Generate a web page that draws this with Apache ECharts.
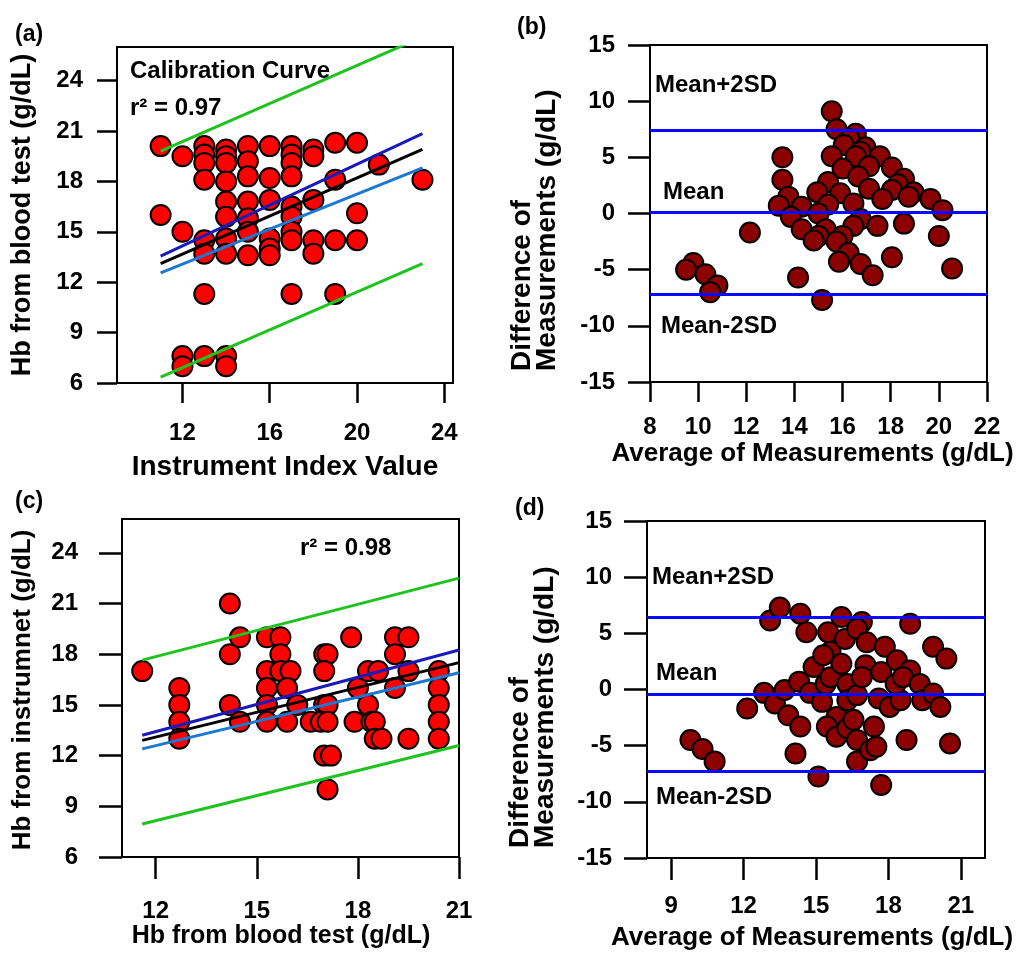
<!DOCTYPE html>
<html>
<head>
<meta charset="utf-8">
<script src="https://cdn.jsdelivr.net/npm/echarts@6/dist/echarts.min.js"></script>
<style>
  html, body { margin: 0; padding: 0; background: #ffffff; }
  #chart { width: 1017px; height: 954px; }
</style>
</head>
<body>
<div id="chart"></div>
<script>
// ---------------- DATA ----------------
// (a) Calibration: [Instrument Index Value, Hb from blood test]
const panelAPoints = [
  [11,20.1],[11,16.0],
  [12,19.5],[12,15.0],[12,7.6],[12,7.0],
  [13,20.1],[13,19.6],[13,19.1],[13,18.1],[13,14.5],[13,13.7],[13,11.3],[13,7.6],
  [14,19.9],[14,19.5],[14,19.1],[14,18.0],[14,16.8],[14,15.9],[14,14.6],[14,13.7],[14,7.6],[14,7.0],
  [15,20.1],[15,19.2],[15,18.3],[15,16.8],[15,15.8],[15,15.0],[15,13.6],
  [16,20.1],[16,18.2],[16,16.9],[16,14.6],[16,14.0],[16,13.6],
  [17,20.1],[17,19.6],[17,19.1],[17,18.3],[17,16.5],[17,15.9],[17,15.0],[17,14.5],[17,11.3],
  [18,19.9],[18,19.5],[18,16.9],[18,14.5],[18,13.7],
  [19,20.3],[19,18.1],[19,14.5],[19,11.3],
  [20,20.3],[20,16.1],[20,14.5],
  [21,19.0],
  [23,18.1]
];
const aLineX = [11, 23];
const aGreenUpper = [19.8, 26.6];
const aGreenLower = [6.35, 13.1];
const aDarkBlue = [13.55, 20.85];
const aBlack = [13.1, 19.9];
const aLightBlue = [12.55, 18.8];
const aXTicks = [12, 16, 20, 24];
const aYTicks = [6, 9, 12, 15, 18, 21, 24];

// (b) Bland-Altman: [Average, Difference]
const panelBPoints = [
  [15.55,9.1],[13.5,5.0],
  [15.75,7.5],[13.5,3.0],[9.8,-4.4],[9.5,-5.0],
  [16.55,7.1],[16.3,6.6],[16.05,6.1],[15.55,5.1],[13.75,1.5],[13.35,0.7],[12.15,-1.7],[10.3,-5.4],
  [16.95,5.9],[16.75,5.5],[16.55,5.1],[16.0,4.0],[15.4,2.8],[14.95,1.9],[14.3,0.6],[13.85,-0.3],[10.8,-6.4],[10.5,-7.0],
  [17.55,5.1],[17.1,4.2],[16.65,3.3],[15.9,1.8],[15.4,0.8],[15.0,0.0],[14.3,-1.4],
  [18.05,4.1],[17.1,2.2],[16.45,0.9],[15.3,-1.4],[15.0,-2.0],[14.8,-2.4],
  [18.55,3.1],[18.3,2.6],[18.05,2.1],[17.65,1.3],[16.75,-0.5],[16.45,-1.1],[16.0,-2.0],[15.75,-2.5],[14.15,-5.7],
  [18.95,1.9],[18.75,1.5],[17.45,-1.1],[16.25,-3.5],[15.85,-4.3],
  [19.65,1.3],[18.55,-0.9],[16.75,-4.5],[15.15,-7.7],
  [20.15,0.3],[18.05,-3.9],[17.25,-5.5],
  [20.0,-2.0],
  [20.55,-4.9]
];
const bLimits = [7.4, 0.1, -7.2];
const bXTicks = [8, 10, 12, 14, 16, 18, 20, 22];
const bYTicks = [-15, -10, -5, 0, 5, 10, 15];

// (c) Validation: [Hb from blood test, Hb from instrument]
const panelCPoints = [
  [11.6,17],
  [12.7,16],[12.7,15],[12.7,14],[12.7,13],
  [14.2,21],[14.2,18],[14.5,19],[14.2,15],[14.5,14],
  [15.3,19],[15.7,19],[15.7,18],[15.3,17],[15.7,17],[16.0,17],[15.3,16],[15.9,16],[15.3,15],[16.2,15],[15.3,14],[15.9,14],
  [16.6,14],[17.0,18],[17.1,18],[17.0,17],[17.0,15],[17.1,15],[16.9,14],[17.1,14],[17.0,12],[17.2,12],[17.1,10],
  [17.8,19],[18.0,16],[17.9,14],[18.3,17],[18.3,15],[18.4,14],[18.5,14],[18.5,13],[18.7,13],[18.6,17],
  [19.1,19],[19.5,19],[19.1,18],[19.1,16],[19.5,17],[19.5,13],
  [20.4,17],[20.4,16],[20.4,15],[20.4,14],[20.4,13]
];
const cLineX = [11.6, 21];
const cGreenUpper = [17.65, 22.5];
const cGreenLower = [7.95, 12.6];
const cDarkBlue = [13.2, 18.25];
const cBlack = [12.9, 17.5];
const cLightBlue = [12.4, 16.9];
const cXTicks = [12, 15, 18, 21];
const cYTicks = [6, 9, 12, 15, 18, 21, 24];

// (d) Bland-Altman: [Average, Difference]
const panelDPoints = [
  [9.8,-4.5],[10.3,-5.3],[10.8,-6.4],
  [12.15,-1.7],[12.85,-0.3],[13.1,6.15],[13.5,7.3],[14.35,6.75],[14.6,5.1],
  [13.3,-1.25],[13.7,-0.05],[13.85,-2.3],[14.35,-3.3],[14.15,-5.7],[14.3,0.7],
  [14.75,-0.3],[14.9,2.0],[15.1,-7.75],[15.25,-1.1],[15.4,0.5],[15.6,1.1],
  [15.5,5.1],[15.6,3.35],[15.3,3.05],[15.85,-2.45],[15.45,-3.3],[15.85,-4.2],
  [16.05,6.45],[16.2,4.5],[16.05,2.3],[16.3,-3.45],[16.3,0.5],[16.3,-0.95],
  [16.55,-2.7],[16.7,-0.5],[16.7,-4.5],[16.7,-6.4],[16.9,6.0],[16.7,5.4],
  [17.1,4.2],[17.05,2.15],[16.9,1.1],[17.4,-3.3],[17.25,-5.4],[17.5,-5.1],
  [17.6,-0.8],[17.7,-8.5],[17.7,1.55],[17.85,3.8],[18.05,-1.55],[18.35,2.6],
  [18.5,-0.95],[18.3,0.5],[18.75,-4.5],[18.9,5.85],[18.9,1.7],[18.6,1.1],
  [19.3,0.5],[19.4,-0.95],[19.85,3.8],[20.4,2.75],[19.85,-0.35],[20.15,-1.55],[20.55,-4.8]
];
const dLimits = [6.45, -0.4, -7.3];
const dXTicks = [9, 12, 15, 18, 21];
const dYTicks = [-15, -10, -5, 0, 5, 10, 15];

// ---------------- STYLE ----------------
const FONT = '"Liberation Sans", Arial, Helvetica, sans-serif';
const RED = '#ff0000';
const DARKRED = '#8b0000';
const GREEN = '#1ec31e';
const DARKBLUE = '#1a1ab8';
const LIGHTBLUE = '#1c78d0';
const BLUE = '#0a0aff';

function valueAxis(gridIndex, min, max, ticks, labelMargin, tickLen, nameCfg) {
  const ax = {
    type: 'value', gridIndex, min, max,
    axisLine: { show: true, onZero: false, lineStyle: { color: '#000', width: 2 } },
    axisTick: { show: true, inside: false, length: tickLen, customValues: ticks,
                lineStyle: { color: '#000', width: 2.5 } },
    axisLabel: { show: true, customValues: ticks, margin: labelMargin, color: '#000',
                 fontSize: 24, fontWeight: 'bold', fontFamily: FONT },
    splitLine: { show: false }
  };
  if (nameCfg) {
    ax.name = nameCfg.name;
    ax.nameLocation = 'middle';
    ax.nameGap = nameCfg.gap;
    ax.nameTextStyle = { color: '#000', fontSize: nameCfg.size || 25, fontWeight: 'bold', fontFamily: FONT,
                         padding: nameCfg.padding || 0 };
  }
  return ax;
}

function scatter(idx, data, color) {
  return {
    type: 'scatter', xAxisIndex: idx, yAxisIndex: idx, data,
    symbol: 'circle', symbolSize: 20,
    itemStyle: { color, borderColor: '#000', borderWidth: 2, opacity: 1 },
    emphasis: { disabled: true }, silent: true, z: 2
  };
}

function fitLine(idx, xs, ys, color) {
  return {
    type: 'line', xAxisIndex: idx, yAxisIndex: idx,
    data: [[xs[0], ys[0]], [xs[1], ys[1]]],
    symbol: 'none', clip: true, silent: true, z: 4,
    lineStyle: { color, width: 3 }
  };
}

function limitSeries(idx, limits) {
  return {
    type: 'scatter', xAxisIndex: idx, yAxisIndex: idx, data: [], silent: true,
    markLine: {
      silent: true, symbol: ['none', 'none'], animation: false,
      label: { show: false },
      lineStyle: { color: BLUE, width: 3, type: 'solid' },
      emphasis: { disabled: true },
      data: limits.map(v => ({ yAxis: v }))
    }
  };
}

function txt(x, y, text, size, opts) {
  opts = opts || {};
  return {
    type: 'text', x, y, rotation: opts.rotation || 0, silent: true, z: 10,
    style: {
      text, fill: '#000', fontSize: size, fontWeight: 'bold', fontFamily: FONT,
      align: opts.align || 'left', verticalAlign: 'middle',
      textAlign: opts.align || 'left', textVerticalAlign: 'middle',
      lineHeight: opts.lineHeight
    }
  };
}

const grids = [
  { left: 117, top: 47, width: 336, height: 336 },
  { left: 650, top: 45, width: 337, height: 337 },
  { left: 122, top: 519, width: 337, height: 338 },
  { left: 647, top: 521, width: 338, height: 337 }
].map(g => Object.assign({ show: true, borderColor: '#000', borderWidth: 2, backgroundColor: 'transparent', containLabel: false }, g));

const option = {
  animation: false,
  backgroundColor: '#ffffff',
  grid: grids,
  xAxis: [
    valueAxis(0, 9, 24.4, aXTicks, 38, 20, { name: 'Instrument Index Value', gap: 70, size: 28 }),
    valueAxis(1, 8, 22, bXTicks, 33, 20, { name: 'Average of Measurements (g/dL)', gap: 59, size: 26, padding: [0, 12, 0, 0] }),
    valueAxis(2, 11, 21, cXTicks, 42, 22, { name: 'Hb from blood test (g/dL)', gap: 61, size: 25, padding: [0, 19, 0, 0] }),
    valueAxis(3, 8, 22, dXTicks, 36, 22, { name: 'Average of Measurements (g/dL)', gap: 67, size: 26, padding: [0, 8, 0, 0] })
  ],
  yAxis: [
    valueAxis(0, 6, 26, aYTicks, 34, 20),
    valueAxis(1, -15, 15, bYTicks, 35, 22),
    valueAxis(2, 6, 26, cYTicks, 44, 23),
    valueAxis(3, -15, 15, dYTicks, 35, 23)
  ],
  series: [
    scatter(0, panelAPoints, RED),
    fitLine(0, aLineX, aGreenUpper, GREEN),
    fitLine(0, aLineX, aGreenLower, GREEN),
    fitLine(0, aLineX, aLightBlue, LIGHTBLUE),
    fitLine(0, aLineX, aBlack, '#000000'),
    fitLine(0, aLineX, aDarkBlue, DARKBLUE),

    scatter(1, panelBPoints, DARKRED),
    limitSeries(1, bLimits),

    scatter(2, panelCPoints, RED),
    fitLine(2, cLineX, cGreenUpper, GREEN),
    fitLine(2, cLineX, cGreenLower, GREEN),
    fitLine(2, cLineX, cLightBlue, LIGHTBLUE),
    fitLine(2, cLineX, cBlack, '#000000'),
    fitLine(2, cLineX, cDarkBlue, DARKBLUE),

    scatter(3, panelDPoints, DARKRED),
    limitSeries(3, dLimits)
  ],
  graphic: [
    txt(15, 35, '(a)', 23),
    txt(517, 28, '(b)', 23),
    txt(15, 502, '(c)', 23),
    txt(515, 509, '(d)', 23),

    txt(23, 215, 'Hb from blood test (g/dL)', 27, { rotation: Math.PI / 2, align: 'center' }),
    txt(535, 371, 'Difference of\nMeasurements (g/dL)', 28, { rotation: Math.PI / 2, align: 'left', lineHeight: 25 }),
    txt(23, 690, 'Hb from instrumnet (g/dL)', 26, { rotation: Math.PI / 2, align: 'center' }),
    txt(533, 848, 'Difference of\nMeasurements (g/dL)', 28, { rotation: Math.PI / 2, align: 'left', lineHeight: 25 }),

    txt(130, 71, 'Calibration Curve', 24),
    txt(130, 108, 'r\u00b2 = 0.97', 24),
    txt(300, 548, 'r\u00b2 = 0.98', 24),

    txt(655, 85, 'Mean+2SD', 24),
    txt(663, 192, 'Mean', 24),
    txt(661, 326, 'Mean-2SD', 24),
    txt(652, 577, 'Mean+2SD', 24),
    txt(656, 673, 'Mean', 24),
    txt(656, 797, 'Mean-2SD', 24)
  ]
};

const chart = echarts.init(document.getElementById('chart'), null, { renderer: 'canvas' });
chart.setOption(option);
</script>
</body>
</html>
